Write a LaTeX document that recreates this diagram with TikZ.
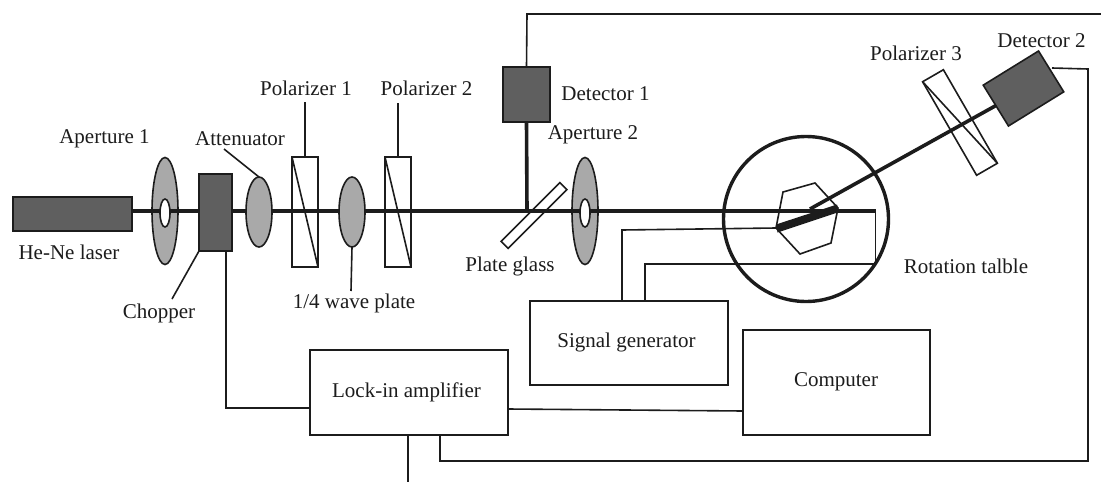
\documentclass[tikz,border=0pt]{standalone}
\usepackage{fontspec}
\setmainfont{Liberation Serif}
\usetikzlibrary{shapes.geometric}
\definecolor{darkbox}{HTML}{5F5F5F}
\definecolor{lens}{HTML}{A9A9A9}
\definecolor{ink}{HTML}{1C1C1C}
\tikzset{
  thinline/.style={draw=ink,line width=1.6pt},
  beam/.style={draw=ink,line width=3.6pt},
  box/.style={rectangle,thinline,inner sep=0pt,outer sep=0pt,fill=none},
  darkunit/.style={box,fill=darkbox},
  lensunit/.style={ellipse,thinline,inner sep=0pt,outer sep=0pt,fill=lens,minimum width=26pt,minimum height=70pt},
  apdisc/.style={ellipse,thinline,inner sep=0pt,outer sep=0pt,fill=lens,minimum width=26pt,minimum height=107pt},
  aphole/.style={ellipse,thinline,inner sep=0pt,outer sep=0pt,fill=white,minimum width=10pt,minimum height=28pt},
  lbl/.style={font=\fontsize{21}{23}\selectfont,text=ink,inner sep=0pt}
}
\begin{document}
\begin{tikzpicture}[x=1pt,y=-1pt,line join=miter]
\useasboundingbox (0,0) rectangle (1101,482);
\fill[white] (0,0) rectangle (1101,482);
% discs under the beam
\node[apdisc] (ap1) at (165,211) {};
\node[apdisc] (ap2) at (585,211) {};
% units
\node[darkunit,minimum width=119pt,minimum height=34pt] (laser) at (72.5,214) {};
\coordinate (beamturn) at (875.5,211);
\coordinate (bmL) at (132,211);
\draw[beam] (bmL) -- (beamturn);
\node[aphole] (h1) at (165,213) {};
\node[aphole] (h2) at (585,213) {};
\node[darkunit,minimum width=33pt,minimum height=77pt] (chopper) at (215.5,212.5) {};
\node[lensunit] (att) at (259,212) {};
\node[lensunit] (wave) at (352,212) {};
\node[box,minimum width=26pt,minimum height=110pt] (pol1) at (305,212) {};
\draw[thinline] (pol1.north west) -- (pol1.south east);
\node[box,minimum width=26pt,minimum height=110pt] (pol2) at (398,212) {};
\draw[thinline] (pol2.north west) -- (pol2.south east);
\node[box,minimum width=83pt,minimum height=10pt,rotate=45] (plate) at (534,215.5) {};
\node[darkunit,minimum width=47pt,minimum height=55pt] (det1) at (526.5,94.5) {};
\coordinate (d1beam) at (527,211);
\draw[beam] (det1.south) -- (d1beam);
% rotation stage
\node[circle,draw=ink,line width=3.4pt,minimum size=165pt,inner sep=0pt,outer sep=0pt] (stage) at (806,219) {};
\coordinate (h1v) at (783,192);
\coordinate (h2v) at (815,183);
\coordinate (h3v) at (838,208);
\coordinate (h4v) at (831,243);
\coordinate (h5v) at (800,254);
\coordinate (h6v) at (776,228);
\draw[thinline] (h1v) -- (h2v) -- (h3v) -- (h4v) -- (h5v) -- (h6v) -- cycle;
\fill[ink] (776,224.5) -- (837,204.5) -- (839,212) -- (777.5,232.5) -- cycle;
% detector 2 arm
\node[darkunit,minimum width=65pt,minimum height=48pt,rotate=31.7] (det2) at (1023.5,88.5) {};
\coordinate (armstart) at (810,209);
\draw[beam] (armstart) -- (det2.west);
\node[box,minimum width=24pt,minimum height=108pt,rotate=30] (pol3) at (960,122.5) {};
\draw[thinline] (pol3.north west) -- (pol3.south east);
% electronics
\node[box,minimum width=198pt,minimum height=85pt] (lock) at (409,392.5) {};
\node[box,minimum width=198pt,minimum height=84pt] (sig) at (629,343) {};
\node[box,minimum width=187pt,minimum height=105pt] (comp) at (836.5,382.5) {};
\coordinate (s1) at (622,301); \coordinate (s1a) at (622,230);
\coordinate (s2) at (645,301); \coordinate (s2a) at (645,264); \coordinate (s2b) at (875.5,264);
\draw[thinline] (s1) -- (s1a) -- (h6v);
\draw[thinline] (s2) -- (s2a) -- (s2b) -- (beamturn);
\coordinate (c1) at (226,251); \coordinate (c2) at (226,408); \coordinate (c3) at (310,408);
\draw[thinline] (c1) -- (c2) -- (c3);
\coordinate (l1) at (508,409); \coordinate (l2) at (743,411);
\draw[thinline] (l1) -- (l2);
\coordinate (b1) at (408,435); \coordinate (b2) at (408,482);
\draw[thinline] (b1) -- (b2);
\coordinate (r1) at (440,435); \coordinate (r2) at (440,461); \coordinate (r3) at (1088,461); \coordinate (r4) at (1088,69); \coordinate (r5) at (1052,68);
\draw[thinline] (r1) -- (r2) -- (r3) -- (r4) -- (r5);
\coordinate (t1) at (527,14); \coordinate (t2) at (1101,14);
\draw[thinline] (det1.north) -- (t1) -- (t2);
% leaders
\coordinate (la) at (224,149); \draw[thinline] (la) -- (att.north);
\coordinate (lb) at (305,102); \draw[thinline] (lb) -- (pol1.north);
\coordinate (lc) at (398,103); \draw[thinline] (lc) -- (pol2.north);
\coordinate (ld) at (351,291); \draw[thinline] (wave.south) -- (ld);
\coordinate (le) at (172,299); \draw[thinline] (chopper.south west) -- (le);
% labels
\node[lbl] (tlaser) at (69,252) {He-Ne laser};
\node[lbl] (tap1) at (104.5,139) {Aperture 1};
\node[lbl] (tatt) at (240,139) {Attenuator};
\node[lbl] (tpol1) at (306,88) {Polarizer 1};
\node[lbl] (tpol2) at (426.5,88) {Polarizer 2};
\node[lbl] (tchop) at (159,313) {Chopper};
\node[lbl] (twave) at (354,303) {1/4 wave plate};
\node[lbl] (tplate) at (510,266) {Plate glass};
\node[lbl] (tdet1) at (605.5,94) {Detector 1};
\node[lbl] (tap2) at (593,135) {Aperture 2};
\node[lbl] (trot) at (966,266) {Rotation talble};
\node[lbl] (tpol3) at (916,53) {Polarizer 3};
\node[lbl] (tdet2) at (1041.5,41) {Detector 2};
\node[lbl] (tsig) at (626.5,342) {Signal generator};
\node[lbl] (tlock) at (406.5,392) {Lock-in amplifier};
\node[lbl] (tcomp) at (836,382) {Computer};
\end{tikzpicture}
\end{document}
